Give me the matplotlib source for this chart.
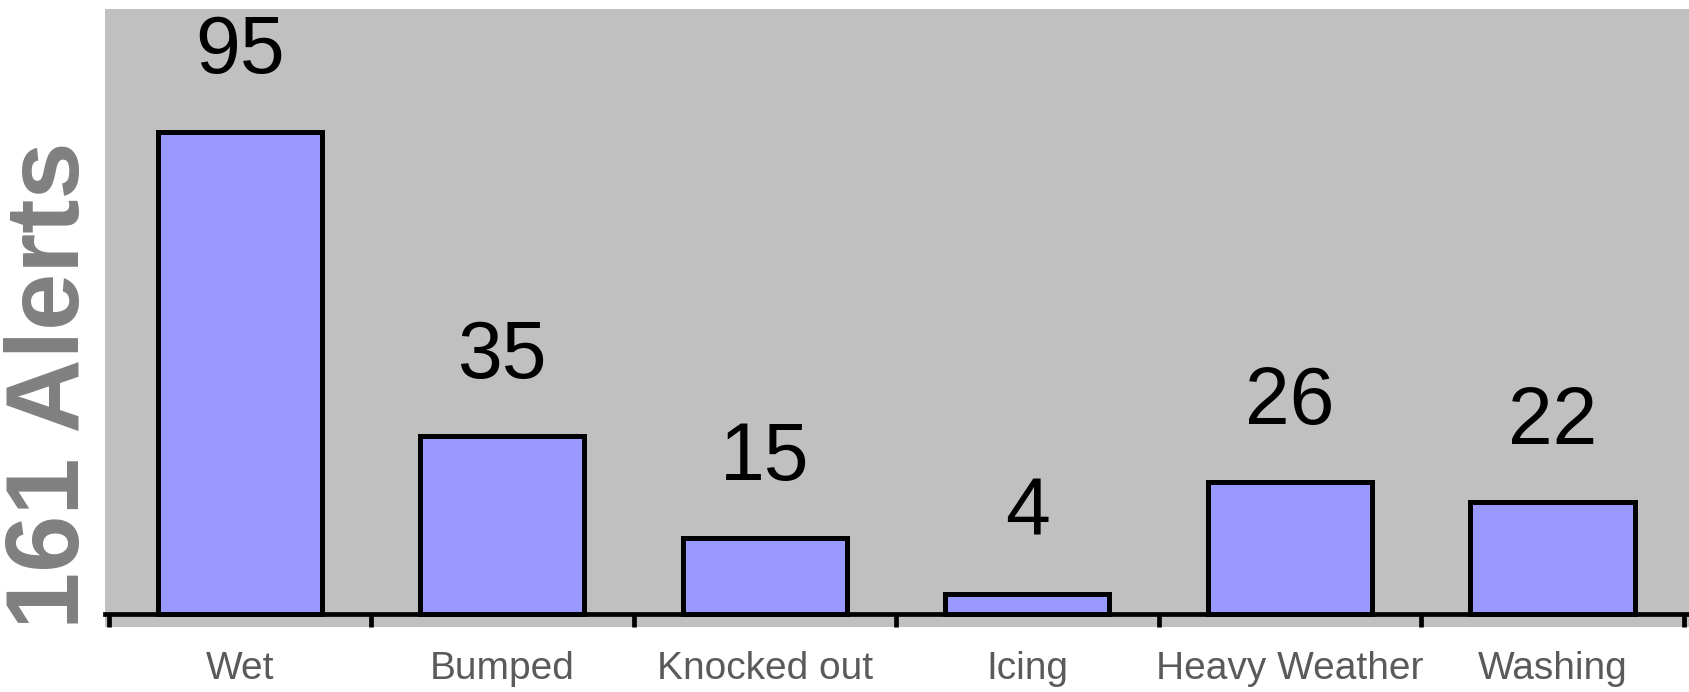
import matplotlib.pyplot as plt
import numpy as np

categories = ['Wet', 'Bumped', 'Knocked out', 'Icing', 'Heavy Weather', 'Washing']
alerts = [95, 35, 15, 4, 26, 22]
total_label = '161 Alerts'

plt.rcParams['font.family'] = ['Liberation Sans', 'DejaVu Sans']

fig = plt.figure(figsize=(16.89, 6.92), dpi=100)
ax = fig.add_axes([0.062, 0.094, 0.938, 0.8935])
ax.set_facecolor('#C0C0C0')

x = np.arange(len(categories))
ax.bar(x, alerts, width=0.625, color='#9999FF', edgecolor='black', linewidth=3.6, zorder=3)

for xi, v in zip(x, alerts):
    ax.annotate(str(v), (xi, v), xytext=(0, 42), textcoords='offset points',
                ha='center', va='baseline', fontsize=58, color='black')

ax.set_xlim(-0.515, 5.52)
ax.set_ylim(-2.5, 119.2)

for s in ['top', 'right', 'left']:
    ax.spines[s].set_visible(False)
ax.spines['bottom'].set_position(('data', 0))
ax.spines['bottom'].set_linewidth(3.4)
ax.spines['bottom'].set_zorder(4)

# boundary ticks between categories, labels in the middle
ax.set_xticks(np.arange(-0.5, 6, 1))
ax.set_xticklabels([])
ax.tick_params(axis='x', which='major', length=9, width=3.4, direction='out')
ax.set_xticks(x, minor=True)
ax.set_xticklabels(categories, minor=True, fontsize=28, color='#5A5A5A')
ax.tick_params(axis='x', which='minor', length=0, pad=26.5)
ax.set_yticks([])

fig.text(0.031, 0.4436, total_label, rotation=90, ha='center', va='center',
         fontsize=74, fontweight='bold', color='#808080')

fig.savefig('out.png', dpi=100)
